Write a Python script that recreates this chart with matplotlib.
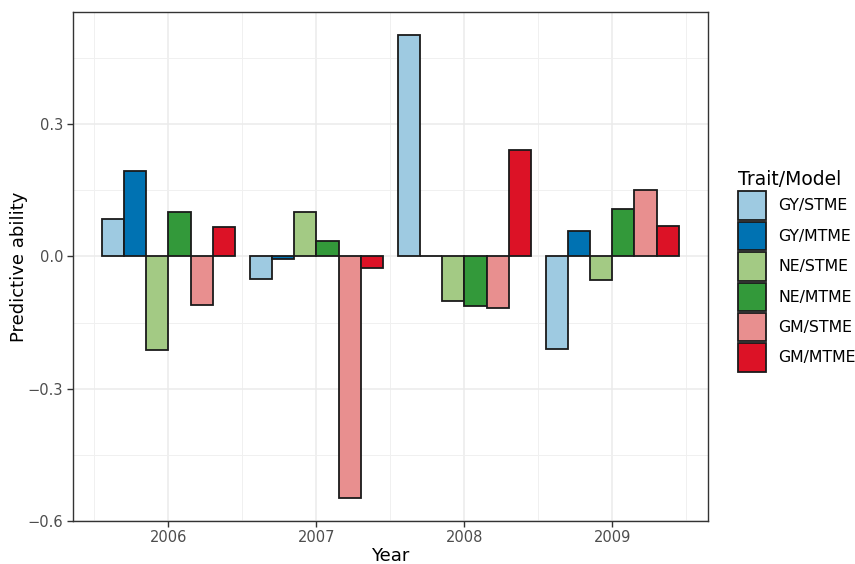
import numpy as np
import matplotlib
matplotlib.use("Agg")
import matplotlib.pyplot as plt
from matplotlib.patches import Patch
from matplotlib.ticker import MultipleLocator

years = [2006, 2007, 2008, 2009]
models = ["GY/STME", "GY/MTME", "NE/STME", "NE/MTME", "GM/STME", "GM/MTME"]

gy_stme = [0.086, -0.050, 0.504, -0.211]
gy_mtme = [0.194, -0.005, 0.001, 0.059]
ne_stme = [-0.213, 0.101, -0.101, -0.053]
ne_mtme = [0.100, 0.036, -0.113, 0.107]
gm_stme = [-0.110, -0.549, -0.116, 0.151]
gm_mtme = [0.067, -0.025, 0.242, 0.070]
series = [gy_stme, gy_mtme, ne_stme, ne_mtme, gm_stme, gm_mtme]

colors = ["#9ECAE1", "#0072B2", "#A3CA84", "#33993A", "#E88F8F", "#DC1226"]

fig = plt.figure(figsize=(8.55, 5.64), dpi=100)
ax = fig.add_axes([0.0854, 0.0768, 0.7423, 0.9014])

width = 0.9 / len(series)
x = np.array(years, dtype=float)
for i, (vals, col) in enumerate(zip(series, colors)):
    offs = (i - (len(series) - 1) / 2) * width
    ax.bar(x + offs, vals, width=width, color=col, edgecolor="#1a1a1a",
           linewidth=1.3, zorder=3)

ax.set_xlim(2005.355, 2009.645)
ax.set_ylim(-0.6, 0.5546)
ax.set_xticks(years)
ax.set_xticklabels([str(y) for y in years])
ax.xaxis.set_minor_locator(MultipleLocator(0.5))
ax.set_yticks([-0.6, -0.3, 0.0, 0.3])
ax.set_yticklabels(["\u22120.6", "\u22120.3", "0.0", "0.3"])
ax.set_yticks([-0.45, -0.15, 0.15, 0.45], minor=True)

ax.grid(True, which="major", color="#EBEBEB", linewidth=1.1, zorder=0)
ax.grid(True, which="minor", color="#F0F0F0", linewidth=0.7, zorder=0)
ax.set_axisbelow(True)

for s in ax.spines.values():
    s.set_color("#333333")
    s.set_linewidth(1.0)
ax.tick_params(which="major", length=4, width=1.0, color="#333333",
               labelsize=10.5, labelcolor="#4D4D4D", pad=3)
ax.tick_params(which="minor", length=0)

ax.set_xlabel("Year", fontsize=13, color="black", labelpad=1)
ax.set_ylabel("Predictive ability", fontsize=13, color="black", labelpad=0)

handles = [Patch(facecolor=c, edgecolor="#1a1a1a", linewidth=1.3) for c in colors]
leg = ax.legend(handles, models, title="Trait/Model", loc="upper left",
                bbox_to_anchor=(1.048, 0.689), frameon=False, fontsize=11.3,
                title_fontsize=13.5, handlelength=1.8, handleheight=2.4,
                labelspacing=0.13, handletextpad=0.75, borderaxespad=0,
                borderpad=0)
leg._legend_box.align = "left"

fig.savefig("out.png", dpi=100, facecolor="white")
